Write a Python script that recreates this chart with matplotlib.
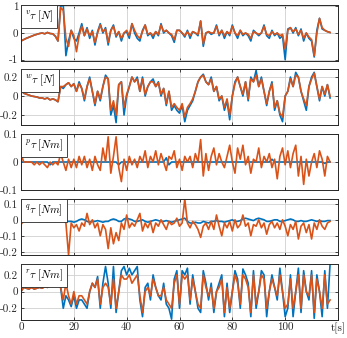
import numpy as np
import matplotlib
matplotlib.use("Agg")
import matplotlib.pyplot as plt

plt.rcParams['mathtext.fontset'] = 'cm'
plt.rcParams['axes.unicode_minus'] = False

# force / torque estimates, sampled once per second
v_blue = [-0.30, -0.25, -0.20, -0.16, -0.12, -0.08, -0.05, -0.02, 0.00, -0.03,
          0.02, -0.02, -0.03, -0.12, -0.30, 1.00, 1.05, -0.85, -0.30, 0.10,
          -0.20, -0.30, 0.00, 0.35, -0.10, 0.20, -0.20, 0.10, -0.45, 0.05,
          0.35, 0.00, 0.20, -0.45, 0.10, 0.30, -0.15, 0.05, -0.30, 0.00,
          0.05, -0.20, 0.35, 0.00, -0.20, -0.30, 0.10, 0.30, -0.10, 0.00,
          -0.20, 0.05, -0.10, 0.35, 0.00, 0.10, 0.00, -0.10, -0.35, 0.10,
          0.10, 0.00, -0.15, 0.10, -0.20, 0.05, 0.00, -0.10, 0.45, -0.50,
          0.00, 0.05, -0.05, 0.00, 0.30, -0.10, 0.10, -0.20, 0.05, -0.10,
          0.30, 0.00, -0.20, 0.10, -0.10, 0.00, -0.10, -0.30, 0.10, 0.00,
          -0.10, 0.00, 0.30, -0.10, -0.20, 0.10, -0.10, 0.00, -0.20, -0.10,
          -1.00, 0.15, 0.20, 0.00, 0.20, -0.10, 0.15, -0.30, 0.00, -0.20,
          -0.30, -0.90, 0.10, 0.55, 0.15, 0.10, 0.05, 0.02]
v_orange = [-0.30, -0.25, -0.20, -0.16, -0.12, -0.08, -0.05, -0.02, 0.00, -0.03,
            0.02, -0.02, -0.03, -0.12, -0.30, 0.95, 0.85, -0.20, -0.50, 0.10,
            -0.10, -0.70, -0.10, 0.25, -0.10, 0.15, -0.10, 0.05, -0.35, 0.00,
            0.30, 0.05, 0.15, -0.35, 0.10, 0.25, -0.10, 0.05, -0.20, 0.00,
            0.10, -0.10, 0.35, 0.10, -0.10, -0.20, 0.05, 0.30, -0.05, 0.00,
            -0.10, 0.05, -0.05, 0.30, 0.05, 0.10, 0.00, -0.05, -0.25, 0.10,
            0.10, 0.00, -0.10, 0.05, -0.10, 0.05, 0.00, -0.05, 0.45, -0.40,
            0.00, 0.05, 0.00, 0.00, 0.25, -0.05, 0.10, -0.10, 0.05, -0.05,
            0.25, 0.00, -0.10, 0.10, -0.05, 0.00, -0.05, -0.20, 0.05, 0.00,
            -0.05, 0.00, 0.25, -0.05, -0.10, 0.05, -0.05, 0.00, -0.10, -0.05,
            -0.60, 0.10, 0.20, 0.05, 0.15, -0.05, 0.10, -0.20, 0.00, -0.15,
            -0.25, -0.85, 0.00, 0.55, 0.20, 0.10, 0.05, 0.02]

w_blue = [0.08, 0.03, 0.02, 0.01, 0.00, -0.005, -0.01, -0.02, -0.02, -0.03,
          -0.02, -0.04, -0.03, -0.04, -0.06, 0.10, 0.08, 0.12, 0.14, 0.10,
          0.13, 0.05, 0.15, 0.08, -0.05, 0.10, 0.20, 0.05, -0.10, 0.05,
          -0.05, 0.10, 0.22, 0.18, -0.20, -0.10, -0.28, 0.12, 0.15, -0.20,
          0.00, 0.10, 0.20, 0.15, 0.20, 0.05, 0.20, 0.00, 0.10, 0.15,
          0.18, 0.10, 0.15, 0.00, 0.08, -0.10, 0.05, -0.15, -0.10, -0.15,
          -0.18, -0.10, -0.27, -0.15, -0.10, -0.05, 0.05, 0.15, 0.20, 0.23,
          0.15, 0.12, 0.20, 0.05, 0.10, -0.05, 0.00, -0.15, -0.05, -0.25,
          0.00, 0.15, 0.20, 0.10, 0.00, 0.15, -0.05, 0.20, 0.15, 0.27,
          0.10, 0.20, 0.05, -0.10, 0.05, 0.15, -0.15, -0.05, -0.20, -0.27,
          0.00, 0.05, 0.20, 0.10, 0.25, 0.20, 0.05, -0.05, -0.15, 0.10,
          0.20, 0.25, 0.10, -0.05, 0.10, 0.00, 0.12, -0.02]
w_orange = [0.08, 0.03, 0.02, 0.01, 0.00, -0.005, -0.01, -0.02, -0.02, -0.03,
            -0.02, -0.04, -0.03, -0.04, -0.06, 0.10, 0.10, 0.12, 0.14, 0.10,
            0.13, 0.05, 0.13, 0.08, -0.03, 0.10, 0.18, 0.05, -0.08, 0.05,
            -0.03, 0.10, 0.20, 0.18, -0.15, -0.05, -0.20, 0.12, 0.15, -0.12,
            0.02, 0.10, 0.20, 0.15, 0.18, 0.05, 0.18, 0.02, 0.10, 0.15,
            0.15, 0.10, 0.14, 0.02, 0.08, -0.08, 0.05, -0.12, -0.08, -0.12,
            -0.15, -0.08, -0.22, -0.12, -0.08, -0.03, 0.05, 0.15, 0.20, 0.22,
            0.15, 0.12, 0.18, 0.05, 0.10, -0.03, 0.00, -0.12, -0.03, -0.20,
            0.00, 0.13, 0.20, 0.10, 0.02, 0.15, -0.03, 0.18, 0.15, 0.22,
            0.10, 0.18, 0.05, -0.08, 0.05, 0.13, -0.12, -0.05, -0.18, -0.22,
            0.00, 0.05, 0.18, 0.10, 0.22, 0.20, 0.05, -0.03, -0.10, 0.10,
            0.18, 0.24, 0.10, -0.03, 0.10, 0.02, 0.12, 0.00]

p_blue = [0.00, 0.00, 0.00, 0.00, 0.00, 0.00, 0.00, 0.00, 0.00, 0.00,
          0.00, -0.01, 0.00, 0.00, 0.00, 0.00, 0.00, 0.00, 0.00, 0.00,
          0.00, 0.00, 0.00, 0.00, 0.00, 0.00, 0.00, 0.00, 0.00, 0.00,
          0.00, 0.00, 0.00, 0.00, 0.00, 0.00, 0.00, -0.01, 0.00, 0.00,
          0.00, 0.00, 0.00, 0.00, 0.00, 0.00, 0.00, 0.00, 0.00, 0.00,
          0.00, 0.00, 0.00, 0.00, 0.00, 0.015, -0.01, 0.00, 0.00, 0.00,
          0.00, 0.00, 0.00, 0.00, 0.00, 0.00, 0.00, 0.00, 0.00, 0.00,
          0.00, 0.00, 0.00, 0.00, 0.00, 0.00, 0.00, 0.00, 0.00, 0.00,
          0.00, 0.00, 0.00, 0.00, 0.00, 0.00, 0.00, 0.00, 0.00, 0.00,
          0.00, 0.00, 0.00, 0.00, 0.00, 0.01, 0.00, 0.00, 0.00, 0.00,
          0.00, 0.00, 0.00, 0.00, 0.00, 0.00, 0.00, 0.00, 0.00, 0.00,
          0.00, 0.00, 0.00, 0.00, 0.00, -0.005, 0.00, 0.00]
p_orange = [0.03, 0.00, 0.00, 0.00, 0.00, -0.01, 0.00, -0.01, 0.00, -0.01,
            -0.02, 0.00, -0.01, 0.00, -0.01, 0.03, 0.00, -0.03, 0.01, -0.02,
            0.01, -0.02, 0.02, -0.01, 0.02, -0.02, 0.01, -0.03, 0.02, -0.01,
            -0.03, 0.05, 0.00, 0.09, -0.04, 0.02, 0.09, -0.02, -0.07, 0.01,
            -0.03, 0.02, -0.01, 0.01, -0.02, 0.02, 0.00, 0.04, -0.02, 0.02,
            0.00, 0.04, -0.01, 0.03, 0.00, -0.03, 0.02, 0.01, 0.04, -0.02,
            0.01, -0.03, 0.02, 0.00, 0.02, -0.02, 0.03, 0.00, 0.08, -0.05,
            0.03, -0.03, 0.02, 0.05, -0.01, 0.03, 0.00, -0.02, 0.02, 0.06,
            0.00, -0.04, 0.05, 0.01, 0.06, -0.01, 0.02, -0.04, 0.01, 0.00,
            0.05, -0.02, 0.02, 0.00, 0.03, -0.02, 0.01, -0.06, 0.02, 0.05,
            -0.01, 0.04, -0.02, 0.03, 0.06, -0.05, 0.02, -0.08, 0.01, -0.05,
            0.00, 0.03, -0.02, 0.04, 0.01, -0.05, 0.02, 0.00]

q_blue = [-0.005, -0.005, -0.005, -0.005, -0.005, -0.005, -0.005, -0.005, -0.005, -0.005,
          -0.005, -0.005, -0.005, -0.005, -0.005, -0.005, -0.005, -0.01, -0.01, -0.01,
          -0.015, -0.01, 0.00, 0.005, 0.00, -0.01, -0.015, -0.01, -0.01, -0.005,
          -0.01, -0.015, -0.01, -0.01, 0.00, 0.005, 0.00, -0.01, -0.01, 0.005,
          0.01, 0.005, 0.00, -0.01, -0.01, -0.005, 0.00, -0.01, -0.015, -0.01,
          -0.005, 0.00, -0.005, -0.01, -0.01, -0.005, -0.01, -0.015, -0.01, -0.005,
          0.00, 0.005, 0.01, -0.01, -0.02, -0.02, -0.015, -0.02, -0.02, -0.01,
          -0.015, -0.02, -0.01, -0.01, -0.005, -0.01, -0.01, -0.015, -0.01, -0.005,
          0.00, -0.01, -0.01, -0.005, 0.005, 0.01, 0.005, 0.00, -0.005, 0.005,
          0.01, 0.005, 0.00, -0.01, -0.01, -0.005, 0.00, 0.00, -0.01, -0.01,
          -0.005, 0.00, 0.005, 0.00, -0.01, -0.01, -0.005, -0.01, -0.01, -0.005,
          0.00, -0.005, -0.01, -0.005, -0.01, -0.01, -0.005, -0.005]
q_orange = [-0.03, -0.005, -0.005, -0.005, -0.005, -0.005, -0.005, -0.01, 0.005, -0.005,
            -0.01, -0.005, 0.00, -0.01, -0.005, 0.00, -0.005, -0.02, -0.22, -0.02,
            -0.05, -0.03, -0.07, -0.02, -0.04, 0.04, -0.03, 0.00, -0.05, -0.02,
            -0.10, -0.03, -0.06, -0.18, -0.05, -0.15, -0.08, -0.13, -0.02, -0.06,
            0.03, -0.05, -0.02, -0.04, 0.00, 0.04, -0.07, -0.02, -0.05, -0.01,
            -0.08, -0.02, -0.04, 0.00, -0.03, -0.06, -0.01, -0.03, -0.02, 0.01,
            -0.04, -0.02, 0.13, -0.02, -0.05, -0.01, -0.03, -0.06, -0.11, -0.04,
            -0.02, -0.06, -0.01, -0.06, 0.03, -0.04, -0.10, -0.02, -0.05, -0.01,
            -0.07, 0.00, -0.05, -0.03, 0.03, -0.04, -0.02, -0.10, -0.03, -0.04,
            0.00, -0.05, -0.02, -0.09, -0.03, -0.01, -0.05, -0.02, -0.06, 0.00,
            -0.04, -0.10, -0.03, -0.06, -0.01, -0.12, -0.04, -0.02, -0.08, -0.03,
            -0.12, -0.02, -0.06, 0.00, -0.04, -0.06, -0.02, -0.01]

r_blue = [0.00, 0.05, 0.04, 0.03, 0.05, 0.03, 0.04, 0.05, 0.04, 0.06,
          0.05, 0.07, 0.08, 0.09, 0.10, 0.05, -0.20, -0.05, -0.10, -0.18,
          -0.05, -0.20, -0.10, -0.10, -0.15, -0.20, 0.00, 0.10, 0.05, 0.18,
          -0.20, 0.10, 0.30, 0.10, -0.20, 0.30, -0.25, 0.00, 0.25, 0.30,
          0.20, 0.28, 0.20, 0.25, 0.30, -0.10, -0.30, 0.05, 0.10, -0.10,
          0.20, 0.05, -0.05, -0.10, 0.10, -0.15, -0.20, -0.33, 0.15, 0.25,
          -0.20, 0.25, 0.20, 0.28, -0.15, 0.20, 0.00, -0.20, -0.25, 0.25,
          0.10, -0.10, 0.10, -0.25, 0.00, 0.10, 0.20, -0.30, 0.10, -0.25,
          0.00, 0.25, 0.15, -0.20, 0.27, 0.20, 0.10, -0.30, 0.25, -0.20,
          0.00, 0.25, 0.20, -0.30, 0.00, 0.20, 0.05, -0.10, 0.28, 0.00,
          -0.30, -0.20, 0.20, -0.30, 0.00, 0.28, -0.25, 0.25, 0.00, -0.10,
          0.25, -0.32, 0.20, 0.00, -0.30, 0.25, -0.20, 0.33]
r_orange = [0.00, 0.05, 0.04, 0.03, 0.05, 0.03, 0.04, 0.05, 0.04, 0.06,
            0.05, 0.07, 0.08, 0.09, 0.10, 0.05, -0.10, 0.10, -0.05, -0.15,
            0.00, -0.15, -0.05, -0.05, -0.10, -0.15, 0.00, 0.10, 0.05, 0.15,
            -0.15, 0.05, 0.10, 0.05, -0.15, 0.15, -0.20, 0.00, 0.20, 0.15,
            0.15, 0.20, 0.10, 0.15, 0.20, -0.05, -0.25, 0.00, 0.05, -0.05,
            0.15, 0.05, -0.05, -0.05, 0.05, -0.10, -0.15, -0.20, 0.10, 0.20,
            -0.15, 0.20, 0.15, 0.20, -0.10, 0.15, 0.00, -0.15, -0.20, 0.20,
            0.05, -0.05, 0.05, -0.20, 0.00, 0.05, 0.15, -0.25, 0.05, -0.20,
            0.00, 0.20, 0.10, -0.15, 0.20, 0.15, 0.05, -0.25, 0.20, -0.15,
            0.00, 0.20, 0.15, -0.20, 0.00, 0.15, 0.05, -0.05, 0.20, 0.00,
            -0.20, -0.15, 0.15, -0.20, 0.00, 0.20, -0.20, 0.20, 0.00, -0.05,
            0.20, -0.25, 0.15, 0.00, -0.20, 0.20, -0.15, -0.10]

panels = [
    (v_blue, v_orange, r'$^{v}\tau\;[N]$', (-1.05, 1.05), [-1, 0, 1], ['-1', '0', '1']),
    (w_blue, w_orange, r'$^{w}\tau\;[N]$', (-0.305, 0.285), [-0.2, 0, 0.2], ['-0.2', '0', '0.2']),
    (p_blue, p_orange, r'$^{p}\tau\;[Nm]$', (-0.1, 0.1), [-0.1, 0, 0.1], ['-0.1', '0', '0.1']),
    (q_blue, q_orange, r'$^{q}\tau\;[Nm]$', (-0.22, 0.13), [-0.2, -0.1, 0, 0.1], ['-0.2', '-0.1', '0', '0.1']),
    (r_blue, r_orange, r'$^{r}\tau\;[Nm]$', (-0.34, 0.33), [-0.2, 0, 0.2], ['-0.2', '0', '0.2']),
]
x_ticks = [0, 20, 40, 60, 80, 100, 120]
x_labels = ['0', '20', '40', '60', '80', '100', 't[s]']

blue = '#0072BD'
orange = '#D95319'

W, H = 347, 338
fig = plt.figure(figsize=(W / 100, H / 100), dpi=100)
tops = [5, 69, 134, 199, 264]
ax_h = 56

for i, (b, o, lab, ylim, yt, ytl) in enumerate(panels):
    ax = fig.add_axes([21 / W, 1 - (tops[i] + ax_h) / H, 317 / W, ax_h / H])
    t = np.arange(len(b))
    ax.plot(t, b, color=blue, lw=1.2)
    ax.plot(t, o, color=orange, lw=1.2)
    ax.set_xlim(0, 120)
    ax.set_ylim(*ylim)
    ax.set_yticks(yt)
    ax.set_yticklabels(ytl, fontfamily='cmr10', fontsize=8)
    ax.set_xticks(x_ticks)
    if i == len(panels) - 1:
        ax.set_xticklabels(x_labels, fontfamily='cmr10', fontsize=8)
    else:
        ax.set_xticklabels([])
    ax.grid(True, color='#d0d0d0', lw=0.6)
    ax.set_axisbelow(True)
    ax.tick_params(direction='in', length=2, width=0.6, colors='#262626',
                   top=True, right=True, pad=2)
    for s in ax.spines.values():
        s.set_color('#262626')
        s.set_linewidth(0.7)
    ax.text(0.012, 0.93, lab, transform=ax.transAxes, fontsize=8,
            va='top', ha='left',
            bbox=dict(boxstyle='square,pad=0.35', fc='white', ec='#262626', lw=0.6))

fig.savefig('out.png', dpi=100)
